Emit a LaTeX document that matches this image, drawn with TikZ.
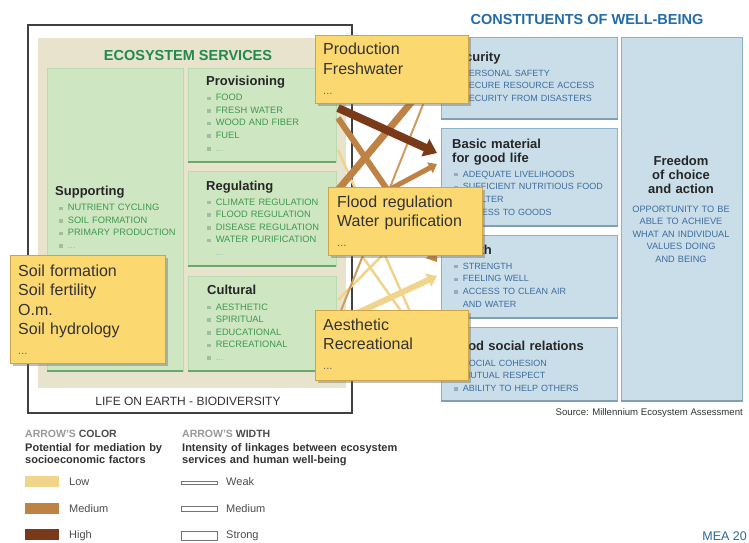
\documentclass[tikz,border=0pt]{standalone}
\usepackage{fontspec}
\setmainfont{Liberation Sans}
\usetikzlibrary{calc,arrows.meta,shadows}

\definecolor{beige}{RGB}{232,227,205}
\definecolor{gfill}{RGB}{206,231,194}
\definecolor{gline}{RGB}{105,168,108}
\definecolor{gtext}{RGB}{62,152,78}
\definecolor{gtitle}{RGB}{32,138,78}
\definecolor{gbul}{RGB}{160,190,160}
\definecolor{bfill}{RGB}{201,222,233}
\definecolor{bline}{RGB}{140,178,201}
\definecolor{btext}{RGB}{62,108,158}
\definecolor{btitle}{RGB}{36,108,168}
\definecolor{bbul}{RGB}{150,172,190}
\definecolor{note}{RGB}{252,216,112}
\definecolor{noteedge}{RGB}{205,165,70}
\definecolor{low}{RGB}{240,212,140}
\definecolor{tan}{RGB}{206,156,96}
\definecolor{med}{RGB}{190,130,68}
\definecolor{high}{RGB}{122,58,26}
\definecolor{meablue}{RGB}{45,105,150}

\newcommand{\gbul}{\textcolor{gbul}{\rule[.6pt]{3.6pt}{3.6pt}}\hspace{5pt}}
\newcommand{\bbul}{\textcolor{bbul}{\rule[.6pt]{3.6pt}{3.6pt}}\hspace{5pt}}

\tikzset{
  gbox/.style={fill=gfill,draw=gfill!80!gline,anchor=north west,inner sep=0},
  bbox/.style={fill=bfill,draw=bline,line width=1,anchor=north west,inner sep=0},
  gedge/.style={draw=gline,line width=2},
  bedge/.style={draw=bline!90!black,line width=2},
  frame/.style={draw=black!75,line width=1.3},
  title/.style={anchor=base,inner sep=0,font=\bfseries\fontsize{14.5}{16}\selectfont},
  head/.style={anchor=base west,inner sep=0,text width=170,align=left,text=black!85,font=\bfseries\fontsize{13}{14}\selectfont},
  glist/.style={anchor=base west,inner sep=0,text width=135,align=left,text=gtext,font=\fontsize{9.3}{12.6}\selectfont},
  blist/.style={anchor=base west,inner sep=0,text width=170,align=left,text=btext,font=\fontsize{9}{12.8}\selectfont},
  plain/.style={anchor=base,inner sep=0,text=black!80},
  note/.style={fill=note,draw=noteedge,line width=.8,anchor=north west,inner sep=0,
    drop shadow={shadow xshift=2.5pt,shadow yshift=-2.5pt,fill=black!55,opacity=.45}},
  notetext/.style={anchor=base west,inner sep=0,text width=150,align=left,text=black!80,font=\fontsize{16}{19.6}\selectfont},
  rib/.style={line cap=butt,-{Triangle[length=0pt 1.6,width=0pt 2.3]}},
  legh/.style={anchor=base west,inner sep=0,text=black!70,font=\bfseries\fontsize{10.5}{12}\selectfont},
  legb/.style={anchor=base west,inner sep=0,text width=260,align=left,text=black!80,font=\bfseries\fontsize{11}{12}\selectfont},
  legl/.style={anchor=base west,inner sep=0,text=black!70,font=\fontsize{11}{12}\selectfont},
  swatch/.style={anchor=north west,inner sep=0,minimum width=34,minimum height=11},
  bar/.style={draw=black!55,fill=white,line width=.7,anchor=north west,inner sep=0,minimum width=36}
}

\begin{document}
\begin{tikzpicture}[x=1pt,y=-1pt]
\useasboundingbox(0,0)rectangle(749,543);
\clip(0,0)rectangle(749,543);
\fill[white](0,0)rectangle(749,543);

% ecosystem services
\fill[beige](38,38)rectangle(346,388);
\node[gbox,minimum width=136,minimum height=303](supp)at(47,68){};
\node[gbox,minimum width=148,minimum height=94](prov)at(188,68){};
\node[gbox,minimum width=148,minimum height=95](regu)at(188,171){};
\node[gbox,minimum width=148,minimum height=95](cult)at(188,276){};
\foreach \b in {supp,prov,regu,cult}
  \draw[gedge](\b.south west)--(\b.south east);

\node[title,text=gtitle](estitle)at(188,60){ECOSYSTEM SERVICES};
\node[head](supph)at(55,195){Supporting};
\node[glist](suppl)at(59,210.7){\gbul NUTRIENT CYCLING\\\gbul SOIL FORMATION\\\gbul PRIMARY PRODUCTION\\\gbul\textcolor{gbul}{...}};
\node[head](provh)at(206,85){Provisioning};
\node[glist](provl)at(207,100.7){\gbul FOOD\\\gbul FRESH WATER\\\gbul WOOD AND FIBER\\\gbul FUEL\\\gbul\textcolor{gbul}{...}};
\node[head](reguh)at(206,190){Regulating};
\node[glist](regul)at(207,205){\gbul CLIMATE REGULATION\\\gbul FLOOD REGULATION\\\gbul DISEASE REGULATION\\\gbul WATER PURIFICATION\\\hspace*{8.6pt}\textcolor{gbul}{...}};
\node[head](culth)at(207,294){Cultural};
\node[glist](cultl)at(207,310){\gbul AESTHETIC\\\gbul SPIRITUAL\\\gbul EDUCATIONAL\\\gbul RECREATIONAL\\\gbul\textcolor{gbul}{...}};
\node[plain,font=\fontsize{12}{14}\selectfont](life)at(188,405){LIFE ON EARTH - BIODIVERSITY};
\draw[frame](28,25)rectangle(352,413);

% constituents of well-being
\node[title,text=btitle](cwtitle)at(587,25){CONSTITUENTS OF WELL-BEING};
\node[bbox,minimum width=176,minimum height=81](secu)at(441,37){};
\node[bbox,minimum width=176,minimum height=97](basic)at(441,128){};
\node[bbox,minimum width=176,minimum height=82](heal)at(441,235){};
\node[bbox,minimum width=176,minimum height=73](soci)at(441,327){};
\node[bbox,minimum width=121,minimum height=363](free)at(621,37){};
\foreach \b in {secu,basic,heal,soci,free}
  \draw[bedge](\b.south west)--(\b.south east);

\node[head](secuh)at(449,61){Security};
\node[blist](secul)at(454,76){\bbul PERSONAL SAFETY\\\bbul SECURE RESOURCE ACCESS\\\bbul SECURITY FROM DISASTERS};
\node[head](basich)at(452,148){Basic material\\for good life};
\node[blist](basicl)at(454,177){\bbul ADEQUATE LIVELIHOODS\\\bbul SUFFICIENT NUTRITIOUS FOOD\\\bbul SHELTER\\\bbul ACCESS TO GOODS};
\node[head](healh)at(452,254){Health};
\node[blist](heall)at(454,269){\bbul STRENGTH\\\bbul FEELING WELL\\\bbul ACCESS TO CLEAN AIR\\\hspace*{8.6pt}AND WATER};
\node[head](socih)at(450,350){Good social relations};
\node[blist](socil)at(454,366){\bbul SOCIAL COHESION\\\bbul MUTUAL RESPECT\\\bbul ABILITY TO HELP OTHERS};
\node[head,anchor=base,align=center,text width=118](freeh)at(681,165){Freedom\\of choice\\and action};
\node[blist,anchor=base,align=center,text width=118,font=\fontsize{9.2}{12.5}\selectfont](freel)at(681,212){OPPORTUNITY TO BE\\ABLE TO ACHIEVE\\WHAT AN INDIVIDUAL\\VALUES DOING\\AND BEING};
\node[plain,anchor=base east,font=\fontsize{9.6}{11}\selectfont](src)at(743,415){Source: Millennium Ecosystem Assessment};

% linkages
\coordinate(p1)at(338,108);\coordinate(q1)at(437,153);
\coordinate(p2)at(338,118);\coordinate(q2)at(437,262);
\coordinate(p3)at(338,190);\coordinate(q3)at(430,80);
\coordinate(p4)at(338,318);\coordinate(q4)at(436,72);
\coordinate(p5)at(338,217);\coordinate(q5)at(437,164);
\coordinate(p6)at(338,322);\coordinate(q6)at(437,276);
\coordinate(p7)at(338,222);\coordinate(q7)at(437,362);
\coordinate(p8)at(338,150);\coordinate(q8)at(437,372);
\coordinate(p9)at(338,300);\coordinate(q9)at(437,200);
\draw[rib,draw=low,line width=2.5](p7)--(q7);
\draw[rib,draw=low,line width=2.5](p8)--(q8);
\draw[rib,draw=low,line width=2.5](p9)--(q9);
\draw[rib,draw=low,line width=6](p6)--(q6);
\draw[rib,draw=tan,line width=2](p4)--(q4);
\draw[rib,draw=med,line width=6](p2)--(q2);
\draw[rib,draw=med,line width=7](p3)--(q3);
\draw[rib,draw=med,line width=5](p5)--(q5);
\draw[rib,draw=high,line width=8](p1)--(q1);

% notes
\node[note,minimum width=153,minimum height=68](prodn)at(315,35){};
\node[notetext](prodt)at(323,55){Production\\Freshwater\\{\fontsize{11}{19.6}\selectfont\textcolor{black!60}{...}}};
\node[note,minimum width=154,minimum height=68](floodn)at(328,187){};
\node[notetext](floodt)at(337,207){Flood regulation\\Water purification\\{\fontsize{11}{19.6}\selectfont\textcolor{black!60}{...}}};
\node[note,minimum width=153,minimum height=70](aesn)at(315,310){};
\node[notetext](aest)at(323,330){Aesthetic\\Recreational\\{\fontsize{11}{19.6}\selectfont\textcolor{black!60}{...}}};
\node[note,minimum width=155,minimum height=108](soiln)at(10,255){};
\node[notetext](soilt)at(18,276){Soil formation\\Soil fertility\\O.m.\\Soil hydrology\\{\fontsize{11}{19.6}\selectfont\textcolor{black!60}{...}}};

% legend
\node[legh](colh)at(25,437){\textcolor{black!40}{ARROW'S} COLOR};
\node[legb](colt)at(25,451){Potential for mediation by\\socioeconomic factors};
\node[swatch,fill=low](sw1)at(25,476){};
\node[swatch,fill=med](sw2)at(25,503){};
\node[swatch,fill=high](sw3)at(25,529){};
\node[legl](sl1)at(69,485){Low};
\node[legl](sl2)at(69,512){Medium};
\node[legl](sl3)at(69,538){High};
\node[legh](widh)at(182,437){\textcolor{black!40}{ARROW'S} WIDTH};
\node[legb](widt)at(182,451){Intensity of linkages between ecosystem\\services and human well-being};
\node[bar,minimum height=2.5](br1)at(181,481){};
\node[bar,minimum height=5](br2)at(181,506){};
\node[bar,minimum height=9](br3)at(181,531){};
\node[legl](bl1)at(226,485){Weak};
\node[legl](bl2)at(226,512){Medium};
\node[legl](bl3)at(226,538){Strong};

\node[plain,anchor=base east,text=meablue,font=\fontsize{12.5}{15}\selectfont](mea)at(747,540){MEA 20};
\end{tikzpicture}
\end{document}
